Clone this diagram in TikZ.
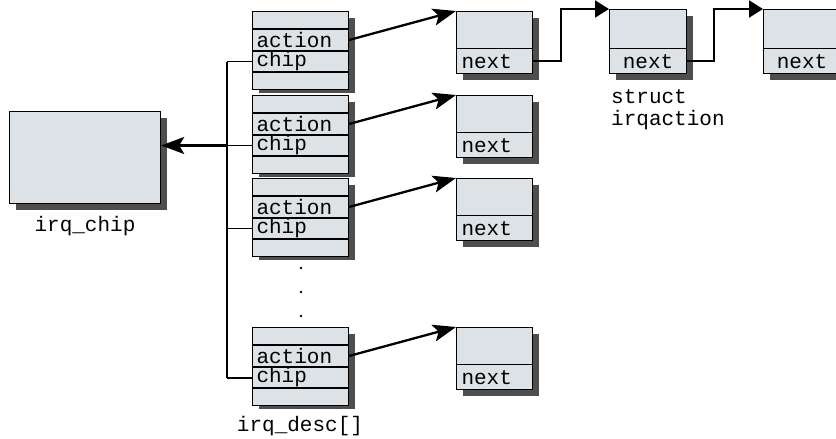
\documentclass[tikz,border=0pt]{standalone}
\usepackage{fontspec}
\setmonofont{Liberation Mono}
\usetikzlibrary{positioning,arrows.meta,shadows}
\definecolor{boxfill}{RGB}{221,226,230}
\definecolor{shadowgray}{RGB}{78,78,78}
\begin{document}
\begin{tikzpicture}[x=1pt,y=-1pt,
  txt/.style={font=\fontsize{21}{22}\selectfont\ttfamily},
  frm/.style={draw,line width=1.2pt,fill=boxfill,anchor=north west,inner sep=0pt,
    drop shadow={shadow xshift=6pt,shadow yshift=-6pt,fill=shadowgray,opacity=1}},
  cell/.style={draw,line width=1pt,fill=boxfill,txt,minimum width=96pt,text width=88pt,
    align=left,inner xsep=4pt,inner ysep=0pt},
  nx/.style={draw,line width=1pt,fill=boxfill,txt,minimum width=76pt,minimum height=25pt,
    inner sep=0pt,anchor=south west},
  lab/.style={txt,align=left,inner sep=0pt},
  ar/.style={-{Stealth[length=23pt,width=17pt,inset=5pt]},line width=2.3pt},
  lnk/.style={-{Triangle[length=14pt,width=17pt]},line width=2pt},
  bus/.style={line width=1.1pt}]
\clip (0,0) rectangle (836,439);
\useasboundingbox (0,0) rectangle (836,439);
% ---- irq_chip
\node[frm,minimum width=151pt,minimum height=92pt] (chip) at (9,111) {};
\node[lab] (chiplab) at (85,226) {irq\_chip};
% ---- irq_desc[] array and first irqaction of each line
\foreach \i/\t in {1/11,2/95,3/178,4/327}{
  \node[frm,minimum width=96pt,minimum height=75pt] (d\i) at (252,\t) {};
  \node[cell,minimum height=17pt,anchor=north west] (d\i-top) at (252,\t) {};
  \node[cell,minimum height=21pt,below=0pt of d\i-top] (d\i-act) {action};
  \node[cell,minimum height=20pt,below=0pt of d\i-act] (d\i-chip) {chip};
  \node[cell,minimum height=17pt,below=0pt of d\i-chip] (d\i-bot) {};
  \node[frm,minimum width=76pt,minimum height=62pt] (a\i) at (456,\t) {};
  \node[nx,text width=66pt,align=left] (a\i-nx) at (a\i.south west) {next};
  \draw[ar] (d\i-act.east) -- (a\i.north west);
}
\foreach \y in {268,292,316}{\fill (301,\y) circle (1.4pt);}
\node[lab] (desclab) at (300,426) {irq\_desc[]};
% ---- rest of the irqaction chain
\node[frm,minimum width=77pt,minimum height=64pt] (c1) at (609,9) {};
\node[nx,minimum width=77pt] (c1-nx) at (c1.south west) {next};
\node[frm,minimum width=77pt,minimum height=64pt] (c2) at (763,9) {};
\node[nx,minimum width=77pt] (c2-nx) at (c2.south west) {next};
\node[lab,anchor=west] (actlab) at (611,110) {struct\\irqaction};
\draw[lnk] (a1-nx.east) -- ++(28,0) |- (c1.north west);
\draw[lnk] (c1-nx.east) -- ++(27,0) |- (c2.north west);
% ---- chip pointers
\coordinate (bus) at (227,0);
\foreach \i in {1,2,3}{\draw[bus] (d\i-chip.west) -- (d\i-chip.west -| bus);}
\draw[line width=2pt] (d4-chip.west) -- (d4-chip.west -| bus);
\draw[line width=1.6pt] (d1-chip.west -| bus) -- (d4-chip.west -| bus);
\draw[ar] (d2-chip.west -| bus) -- (d2-chip.west -| chip.east);
\end{tikzpicture}
\end{document}
